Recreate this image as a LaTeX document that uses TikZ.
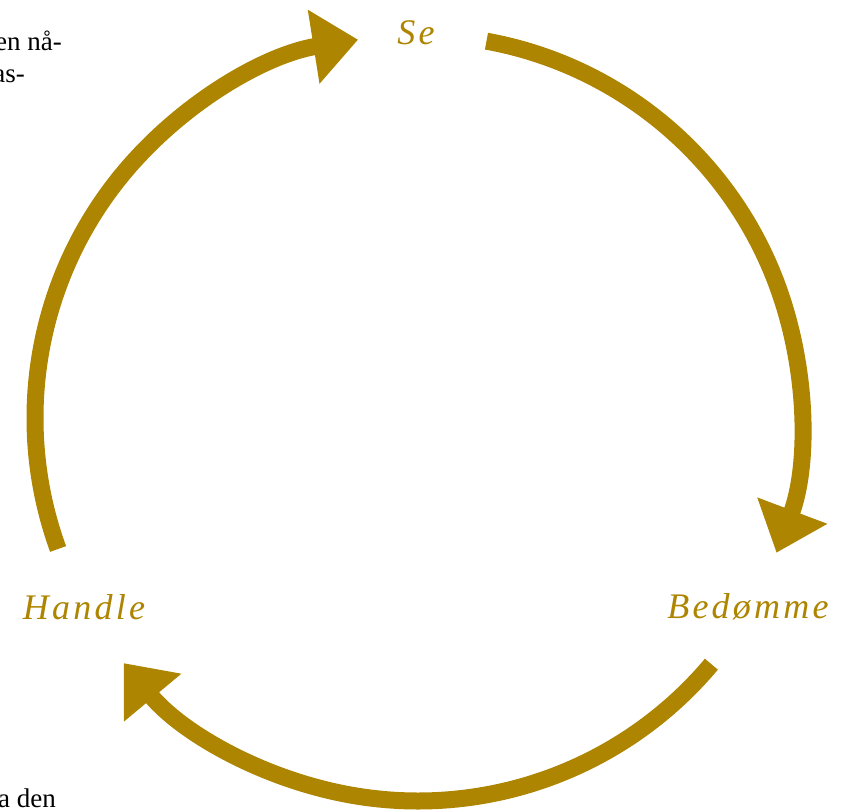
\documentclass[tikz,border=0pt]{standalone}
\usepackage{fontspec}
\setmainfont{Liberation Serif}
\newfontfamily\labelfont[LetterSpace=9]{Liberation Serif}
\usetikzlibrary{arrows.meta}
\definecolor{gold}{RGB}{173,133,0}
\begin{document}
\begin{tikzpicture}[x=1pt,y=1pt,
  cyc/.style={draw=gold, line width=17pt, -{Triangle[length=45pt,width=72pt]}},
  lbl/.style={text=gold, font=\labelfont\itshape\fontsize{36}{40}\selectfont, inner sep=0pt},
  body/.style={text=black, font=\fontsize{27}{30}\selectfont, inner sep=0pt, anchor=base east}]
\useasboundingbox (0,0) rectangle (852,811);
\coordinate (c) at (418,393);
\def\R{383}
% labels
\node[lbl] (se) at (416,778) {Se};
\node[lbl] (bed) at (748,204) {Bedømme};
\node[lbl] (han) at (84,204) {Handle};
% cut-off body text (page text clipped at the picture's edge)
\node[body] (t1) at (62,760) {en nå-};
\node[body] (t2) at (25,728) {as-};
\node[body] (t3) at (56,3) {a den};
% arcs
\path (c) ++(200:\R) coordinate (a1s);
\path (c) ++(79.7:\R) coordinate (a2s);
\path (c) ++(-40:\R) coordinate (a3s);
\draw[cyc] (a1s) arc[start angle=200, end angle=99, radius=\R];
\draw[cyc] (a2s) arc[start angle=79.7, end angle=-20.6, radius=\R];
\draw[cyc] (a3s) arc[start angle=-40, end angle=-140.2, radius=\R];
\end{tikzpicture}
\end{document}
